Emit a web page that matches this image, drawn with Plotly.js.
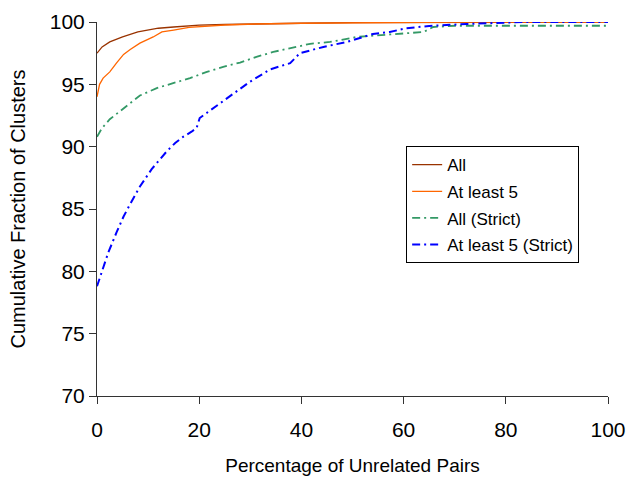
<!DOCTYPE html>
<html>
<head>
<meta charset="utf-8">
<script src="https://cdn.plot.ly/plotly-3.0.1.min.js"></script>
<style>html,body{margin:0;padding:0;background:#fff;}#chart{width:634px;height:480px;}</style>
</head>
<body>
<div id="chart"></div>
<script>
// Data
const allX = [0, 1, 2.5, 5, 8, 12, 15, 20, 25, 30, 40, 50, 60, 70, 80, 100];
const allY = [97.5, 98.0, 98.4, 98.8, 99.2, 99.5, 99.6, 99.75, 99.8, 99.85, 99.9, 99.95, 99.97, 100, 100, 100];

const least5X = [0, 0.5, 1.2, 2.5, 3.8, 5.2, 6.5, 8.4, 11, 12.7, 15, 18, 25, 31, 40, 50, 60, 70, 100];
const least5Y = [94.0, 95.0, 95.5, 96.0, 96.7, 97.4, 97.8, 98.3, 98.8, 99.2, 99.35, 99.57, 99.76, 99.84, 99.9, 99.93, 99.97, 100, 100];

const allStrictX = [0, 1, 2.5, 5.2, 8.4, 11.7, 14.3, 18.2, 21.5, 24.7, 28, 31.2, 34.5, 37.8, 41.7, 45.6, 50.8, 57.3, 60.5, 63.9, 65.8, 70, 80, 90, 100];
const allStrictY = [90.8, 91.5, 92.2, 93.1, 94.1, 94.7, 95.0, 95.5, 96.0, 96.4, 96.75, 97.2, 97.6, 97.9, 98.25, 98.4, 98.8, 99.0, 99.1, 99.2, 99.6, 99.7, 99.7, 99.7, 99.7];

const least5StrictX = [0, 0.9, 2.2, 3.8, 5.2, 6.5, 8.4, 10.7, 13.6, 15.3, 16.9, 18.5, 19.5, 20.1, 22.8, 26, 29.9, 33.9, 37.8, 39.7, 44.3, 48.9, 54, 57.3, 60.5, 65, 72.3, 83.4, 100];
const least5StrictY = [78.8, 79.9, 81.5, 83.1, 84.4, 85.4, 86.8, 88.2, 89.6, 90.3, 90.8, 91.2, 91.5, 92.3, 93.1, 94.0, 95.2, 96.2, 96.7, 97.5, 98.0, 98.4, 99.04, 99.2, 99.5, 99.68, 99.84, 100, 100];

const seriesNames = ["All", "At least 5", "All (Strict)", "At least 5 (Strict)"];
const xTickVals = [0, 20, 40, 60, 80, 100];
const yTickVals = [70, 75, 80, 85, 90, 95, 100];

const FONT = "Liberation Sans, Arial, sans-serif";

const traces = [
  {x: allX, y: allY, name: seriesNames[0], legendgroup: "g1", mode: "lines",
   line: {color: "#993300", width: 1.3}},
  {x: least5X, y: least5Y, name: seriesNames[1], legendgroup: "g2", mode: "lines",
   line: {color: "#FF6600", width: 1.3}},
  {x: allStrictX, y: allStrictY, name: seriesNames[2], legendgroup: "g3", mode: "lines",
   line: {color: "#339966", width: 1.8, dash: "8px,4px,2px,4px"}},
  {x: least5StrictX, y: least5StrictY, name: seriesNames[3], legendgroup: "g4", mode: "lines",
   line: {color: "#0000FF", width: 2, dash: "8px,4px,2px,4px"}}
];

const layout = {
  width: 634, height: 480,
  margin: {l: 97, r: 26, t: 22, b: 84},
  paper_bgcolor: "#fff", plot_bgcolor: "#fff",
  font: {family: FONT, color: "#000"},
  showlegend: true,
  legend: {
    x: 0.605, y: 0.668, xanchor: "left", yanchor: "top",
    bgcolor: "#fff", bordercolor: "#000", borderwidth: 1,
    font: {family: FONT, size: 17, color: "#000"},
    traceorder: "grouped", tracegroupgap: 1.5
  },
  xaxis: {
    range: [0, 100], tickvals: xTickVals, ticktext: xTickVals.map(String),
    showgrid: false, zeroline: false, showline: true, linecolor: "#333", linewidth: 1,
    ticks: "outside", ticklen: 7, tickcolor: "#333", tickwidth: 1, ticklabelstandoff: 8,
    tickfont: {family: FONT, size: 21, color: "#000"},
    title: {text: "Percentage of Unrelated Pairs", font: {family: FONT, size: 19, color: "#000"}, standoff: 18}
  },
  yaxis: {
    range: [70, 100], tickvals: yTickVals, ticktext: yTickVals.map(String),
    showgrid: false, zeroline: false, showline: true, linecolor: "#333", linewidth: 1,
    ticks: "outside", ticklen: 7, tickcolor: "#333", tickwidth: 1,
    tickfont: {family: FONT, size: 21, color: "#000"},
    title: {text: "Cumulative Fraction of Clusters", font: {family: FONT, size: 20, color: "#000"}, standoff: 18}
  }
};

Plotly.newPlot("chart", traces, layout, {displayModeBar: false, staticPlot: true});
</script>
</body>
</html>
